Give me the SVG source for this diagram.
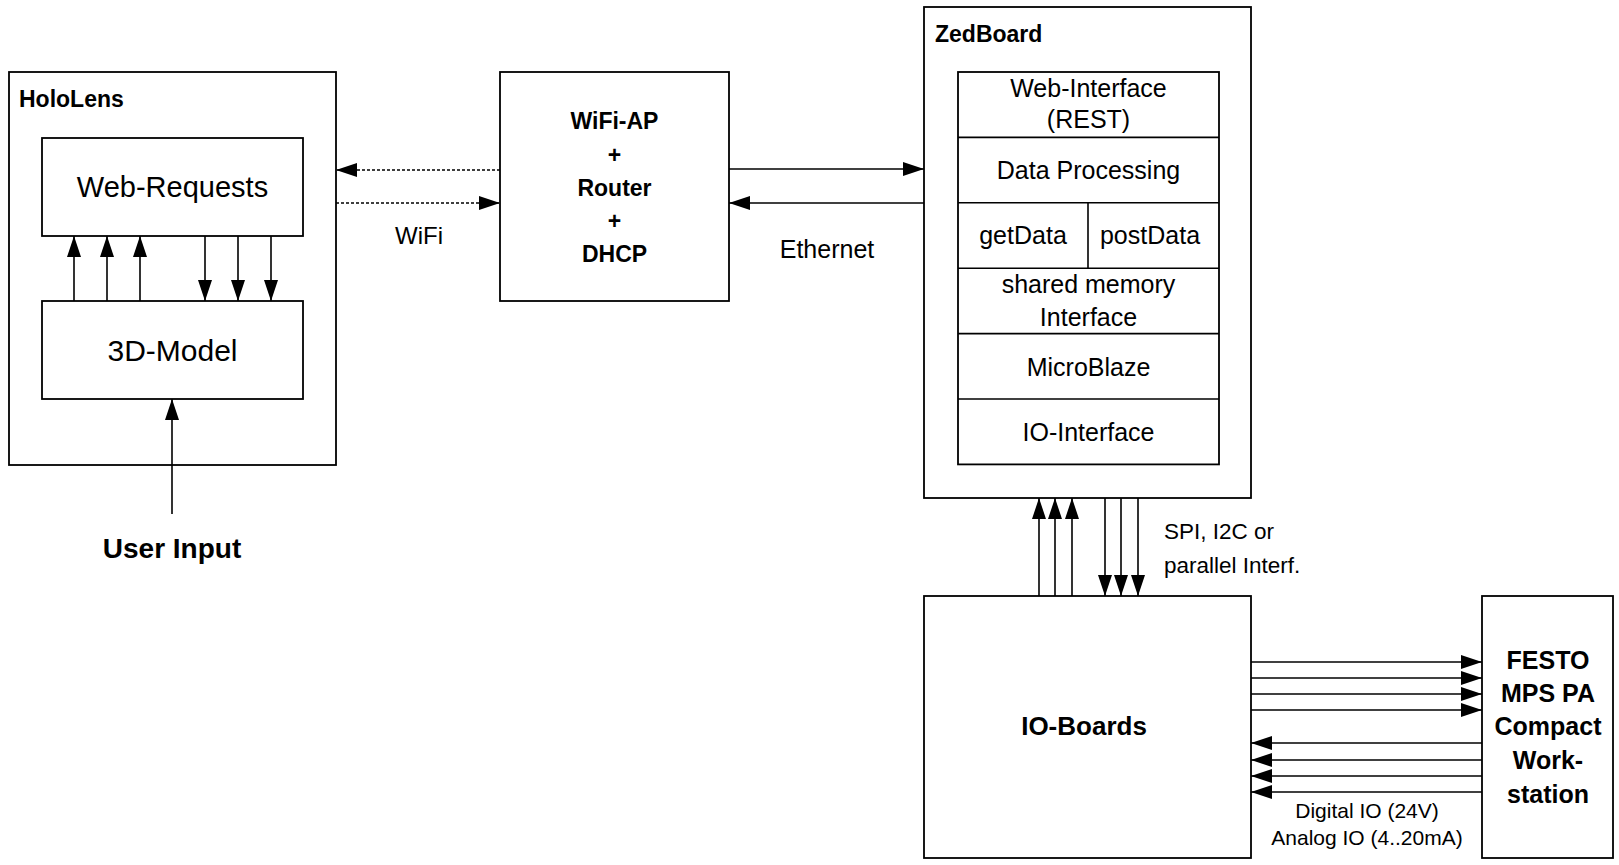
<svg xmlns="http://www.w3.org/2000/svg" width="1619" height="865" viewBox="0 0 1619 865">
<style>
.box{fill:#fff;stroke:#000;stroke-width:1.8}
.ln{stroke:#000;stroke-width:1.6;fill:none}
.dot{stroke:#000;stroke-width:1.6;fill:none;stroke-dasharray:3 2}
text{font-family:"Liberation Sans",Arial,sans-serif;fill:#000}
.b{font-weight:bold}
.c{text-anchor:middle}
.zs{font-size:25px}
.fe{font-size:25px;font-weight:bold;text-anchor:middle}
</style>
<defs>
<marker id="ah" viewBox="0 0 21 14" refX="21" refY="7" markerWidth="21" markerHeight="14" markerUnits="userSpaceOnUse" orient="auto">
<path d="M0,0 L21,7 L0,14 z" fill="#000"/>
</marker>
</defs>
<rect x="0" y="0" width="1619" height="865" fill="#fff"/>

<g id="hololens">
<rect class="box" x="9" y="72" width="327" height="393"/>
<text class="b" x="19" y="107" font-size="23">HoloLens</text>
</g>
<g id="web-requests">
<rect class="box" x="42" y="138" width="261" height="98"/>
<text class="c" x="172.5" y="197" font-size="29">Web-Requests</text>
</g>
<g id="model3d">
<rect class="box" x="42" y="301" width="261" height="98"/>
<text class="c" x="172.5" y="361" font-size="30">3D-Model</text>
</g>
<g id="user-input">
<text class="b c" x="172" y="558" font-size="28">User Input</text>
</g>
<g id="wifi-ap">
<rect class="box" x="500" y="72" width="229" height="229"/>
<text class="b c" x="614.5" y="129" font-size="23">WiFi-AP</text>
<text class="b c" x="614.5" y="163" font-size="23">+</text>
<text class="b c" x="614.5" y="196" font-size="23">Router</text>
<text class="b c" x="614.5" y="229" font-size="23">+</text>
<text class="b c" x="614.5" y="262" font-size="23">DHCP</text>
</g>
<g id="zedboard">
<rect class="box" x="924" y="7" width="327" height="491"/>
<text class="b" x="935" y="42" font-size="23">ZedBoard</text>
<rect class="box" x="958" y="72" width="261" height="392.4"/>
<line class="ln" x1="958" y1="137.4" x2="1219" y2="137.4"/>
<line class="ln" x1="958" y1="202.8" x2="1219" y2="202.8"/>
<line class="ln" x1="958" y1="268.2" x2="1219" y2="268.2"/>
<line class="ln" x1="958" y1="333.6" x2="1219" y2="333.6"/>
<line class="ln" x1="958" y1="399" x2="1219" y2="399"/>
<line class="ln" x1="1088" y1="202.8" x2="1088" y2="268.2"/>
<text class="c zs" x="1088.5" y="97">Web-Interface</text>
<text class="c zs" x="1088.5" y="128">(REST)</text>
<text class="c zs" x="1088.5" y="179">Data Processing</text>
<text class="c zs" x="1023" y="244">getData</text>
<text class="c zs" x="1150" y="244">postData</text>
<text class="c zs" x="1088.5" y="293">shared memory</text>
<text class="c zs" x="1088.5" y="326">Interface</text>
<text class="c zs" x="1088.5" y="376">MicroBlaze</text>
<text class="c zs" x="1088.5" y="441">IO-Interface</text>
</g>
<g id="io-boards">
<rect class="box" x="924" y="596" width="327" height="262"/>
<text class="b c" x="1084" y="735" font-size="26">IO-Boards</text>
</g>
<g id="festo">
<rect class="box" x="1482" y="596" width="131" height="262"/>
<text class="fe" x="1548" y="669">FESTO</text>
<text class="fe" x="1548" y="702">MPS PA</text>
<text class="fe" x="1548" y="735">Compact</text>
<text class="fe" x="1548" y="769">Work-</text>
<text class="fe" x="1548" y="803">station</text>
</g>

<g id="connectors">
<line class="ln" x1="74" y1="301" x2="74" y2="236" marker-end="url(#ah)"/>
<line class="ln" x1="107" y1="301" x2="107" y2="236" marker-end="url(#ah)"/>
<line class="ln" x1="140" y1="301" x2="140" y2="236" marker-end="url(#ah)"/>
<line class="ln" x1="205" y1="236" x2="205" y2="301" marker-end="url(#ah)"/>
<line class="ln" x1="238" y1="236" x2="238" y2="301" marker-end="url(#ah)"/>
<line class="ln" x1="271" y1="236" x2="271" y2="301" marker-end="url(#ah)"/>
<line class="ln" x1="172" y1="514" x2="172" y2="399" marker-end="url(#ah)"/>

<line class="dot" x1="500" y1="170" x2="336" y2="170" marker-end="url(#ah)"/>
<line class="dot" x1="336" y1="203" x2="500" y2="203" marker-end="url(#ah)"/>
<text class="c" x="419" y="244" font-size="24">WiFi</text>

<line class="ln" x1="729" y1="169" x2="924" y2="169" marker-end="url(#ah)"/>
<line class="ln" x1="924" y1="203" x2="729" y2="203" marker-end="url(#ah)"/>
<text class="c" x="827" y="258" font-size="25">Ethernet</text>

<line class="ln" x1="1039" y1="596" x2="1039" y2="498" marker-end="url(#ah)"/>
<line class="ln" x1="1055" y1="596" x2="1055" y2="498" marker-end="url(#ah)"/>
<line class="ln" x1="1072" y1="596" x2="1072" y2="498" marker-end="url(#ah)"/>
<line class="ln" x1="1105" y1="498" x2="1105" y2="596" marker-end="url(#ah)"/>
<line class="ln" x1="1121" y1="498" x2="1121" y2="596" marker-end="url(#ah)"/>
<line class="ln" x1="1138" y1="498" x2="1138" y2="596" marker-end="url(#ah)"/>
<text x="1164" y="539" font-size="22.5">SPI, I2C or</text>
<text x="1164" y="573" font-size="22.5">parallel Interf.</text>

<line class="ln" x1="1251" y1="662" x2="1482" y2="662" marker-end="url(#ah)"/>
<line class="ln" x1="1251" y1="678" x2="1482" y2="678" marker-end="url(#ah)"/>
<line class="ln" x1="1251" y1="694" x2="1482" y2="694" marker-end="url(#ah)"/>
<line class="ln" x1="1251" y1="710" x2="1482" y2="710" marker-end="url(#ah)"/>
<line class="ln" x1="1482" y1="743" x2="1251" y2="743" marker-end="url(#ah)"/>
<line class="ln" x1="1482" y1="760" x2="1251" y2="760" marker-end="url(#ah)"/>
<line class="ln" x1="1482" y1="776" x2="1251" y2="776" marker-end="url(#ah)"/>
<line class="ln" x1="1482" y1="792" x2="1251" y2="792" marker-end="url(#ah)"/>
<text class="c" x="1367" y="818" font-size="21">Digital IO (24V)</text>
<text class="c" x="1367" y="845" font-size="21">Analog IO (4..20mA)</text>
</g>
</svg>
